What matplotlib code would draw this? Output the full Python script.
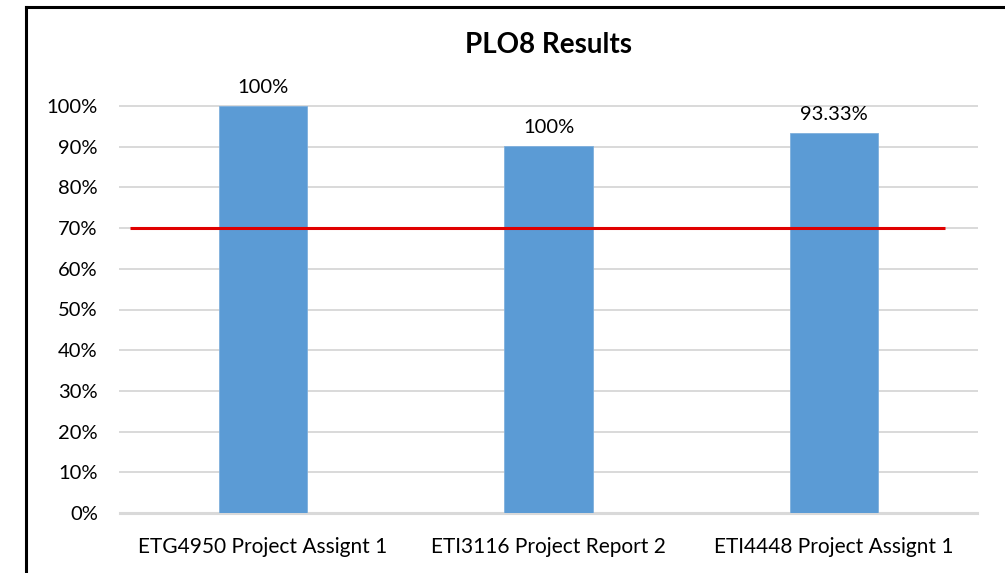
import matplotlib
matplotlib.use("Agg")
import matplotlib.pyplot as plt
from matplotlib.lines import Line2D

# data
categories = ["ETG4950 Project Assignt 1", "ETI3116 Project Report 2", "ETI4448 Project Assignt 1"]
values = [1.00, 0.902, 0.9333]
bar_labels = ["100%", "100%", "93.33%"]
target = 0.70
y_ticks = [0.0, 0.1, 0.2, 0.3, 0.4, 0.5, 0.6, 0.7, 0.8, 0.9, 1.0]
y_tick_labels = ["0%", "10%", "20%", "30%", "40%", "50%", "60%", "70%", "80%", "90%", "100%"]

plt.rcParams['font.family'] = ['Lato', 'DejaVu Sans']

fig = plt.figure(figsize=(10.05, 5.73), dpi=100)
ax = fig.add_axes([120 / 1005, 1 - 513 / 573, (977 - 120) / 1005, (513 - 106) / 573])

x = list(range(len(categories)))
bars = ax.bar(x, values, width=0.31, color='#5B9BD5', edgecolor='#7FB0DD', linewidth=0.6, zorder=3)

# data labels
for bar, lab in zip(bars, bar_labels):
    ax.annotate(lab, xy=(bar.get_x() + bar.get_width() / 2, bar.get_height()),
                xytext=(0, 7), textcoords="offset points",
                ha='center', va='bottom', fontsize=14.5, color='#000000')

# target line
ax.plot([-0.465, 2.388], [target, target], color='#E00000', linewidth=2.2, zorder=4,
        solid_capstyle='butt')

ax.set_xlim(-0.5, 2.5)
ax.set_ylim(0, 1.0)
ax.set_yticks(y_ticks)
ax.set_yticklabels(y_tick_labels, fontsize=14.5)
ax.set_xticks(x)
ax.set_xticklabels(categories, fontsize=15)
ax.tick_params(axis='both', length=0)
ax.tick_params(axis='y', pad=16)
ax.tick_params(axis='x', pad=17)

for yv in y_ticks:
    ax.axhline(yv, color='#D9D9D9', linewidth=1.4 if yv > 0 else 2.2, zorder=1, clip_on=False)

for s in ax.spines.values():
    s.set_visible(False)

fig.text(548 / 1005, 1 - 45 / 573, "PLO8 Results", ha='center', va='center',
         fontsize=20, fontweight='bold')

# outer frame (left + top only visible)
fig.add_artist(Line2D([26 / 1005, 26 / 1005], [0, 1 - 7 / 573], color='black', linewidth=2.2))
fig.add_artist(Line2D([26 / 1005, 1], [1 - 7 / 573, 1 - 7 / 573], color='black', linewidth=2.2))

plt.savefig("out.png", dpi=100)
